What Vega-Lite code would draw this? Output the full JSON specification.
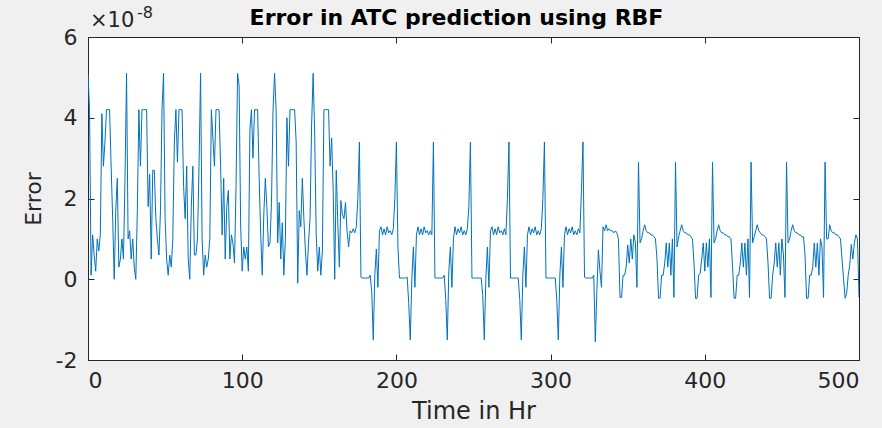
{
"$schema":"https://vega.github.io/schema/vega-lite/v6.json",
"width":771,"height":323,"autosize":"none",
"padding":{"left":88,"top":37,"right":23,"bottom":68},
"background":"#f0f0f0",
"config":{"font":"DejaVu Sans","view":{"fill":"#ffffff","stroke":"#262626","strokeWidth":1},
 "axis":{"domain":false,"grid":false,"tickColor":"#262626","tickSize":-6,"tickWidth":1,"labelColor":"#262626","labelFont":"DejaVu Sans","labelFontSize":22,"titleColor":"#262626","titleFont":"DejaVu Sans","titleFontSize":22,"titleFontWeight":"normal"}},
"title":{"text":"Error in ATC prediction using RBF","font":"DejaVu Sans","fontSize":22,"fontWeight":"bold","color":"#000000","offset":4,"dx":-17,"dy":29},
"data":{"values":[
{"hour":0,"error":5.1e-8},{"hour":1,"error":4.2e-8},{"hour":2,"error":0.1e-8},{"hour":3,"error":1.1e-8},{"hour":4,"error":0.6e-8},{"hour":5,"error":0.2e-8},{"hour":6,"error":1.0e-8},{"hour":7,"error":0.7e-8},{"hour":8,"error":1.1e-8},{"hour":9,"error":4.1e-8},
{"hour":10,"error":2.8e-8},{"hour":11,"error":3.4e-8},{"hour":12,"error":4.2e-8},{"hour":13,"error":4.2e-8},{"hour":14,"error":4.2e-8},{"hour":15,"error":2.8e-8},{"hour":16,"error":1.5e-8},{"hour":17,"error":0},{"hour":18,"error":1.7e-8},{"hour":19,"error":2.5e-8},
{"hour":20,"error":0.3e-8},{"hour":21,"error":0.5e-8},{"hour":22,"error":1.0e-8},{"hour":23,"error":0.5e-8},{"hour":24,"error":2.5e-8},{"hour":25,"error":5.1e-8},{"hour":26,"error":1.0e-8},{"hour":27,"error":1.2e-8},{"hour":28,"error":0.5e-8},{"hour":29,"error":1.0e-8},
{"hour":30,"error":0.3e-8},{"hour":31,"error":0},{"hour":32,"error":1.7e-8},{"hour":33,"error":4.2e-8},{"hour":34,"error":2.8e-8},{"hour":35,"error":4.2e-8},{"hour":36,"error":4.2e-8},{"hour":37,"error":4.2e-8},{"hour":38,"error":4.2e-8},{"hour":39,"error":1.8e-8},
{"hour":40,"error":2.6e-8},{"hour":41,"error":0.5e-8},{"hour":42,"error":2.7e-8},{"hour":43,"error":2.7e-8},{"hour":44,"error":1.5e-8},{"hour":45,"error":1.0e-8},{"hour":46,"error":0.6e-8},{"hour":47,"error":1.7e-8},{"hour":48,"error":4.2e-8},{"hour":49,"error":5.1e-8},
{"hour":50,"error":1.5e-8},{"hour":51,"error":0.5e-8},{"hour":52,"error":0.1e-8},{"hour":53,"error":0.6e-8},{"hour":54,"error":0.3e-8},{"hour":55,"error":1.0e-8},{"hour":56,"error":3.4e-8},{"hour":57,"error":4.2e-8},{"hour":58,"error":2.9e-8},{"hour":59,"error":4.2e-8},
{"hour":60,"error":4.2e-8},{"hour":61,"error":4.2e-8},{"hour":62,"error":2.3e-8},{"hour":63,"error":1.5e-8},{"hour":64,"error":2.8e-8},{"hour":65,"error":0.5e-8},{"hour":66,"error":0},{"hour":67,"error":1.8e-8},{"hour":68,"error":2.8e-8},{"hour":69,"error":0.6e-8},
{"hour":70,"error":0.6e-8},{"hour":71,"error":1.0e-8},{"hour":72,"error":2.8e-8},{"hour":73,"error":5.1e-8},{"hour":74,"error":1.0e-8},{"hour":75,"error":0.1e-8},{"hour":76,"error":0.6e-8},{"hour":77,"error":0.3e-8},{"hour":78,"error":0.5e-8},{"hour":79,"error":1.0e-8},
{"hour":80,"error":4.2e-8},{"hour":81,"error":3.5e-8},{"hour":82,"error":2.8e-8},{"hour":83,"error":4.2e-8},{"hour":84,"error":4.2e-8},{"hour":85,"error":4.2e-8},{"hour":86,"error":2.8e-8},{"hour":87,"error":1.1e-8},{"hour":88,"error":2.5e-8},{"hour":89,"error":0.5e-8},
{"hour":90,"error":1.8e-8},{"hour":91,"error":2.2e-8},{"hour":92,"error":0.5e-8},{"hour":93,"error":1.1e-8},{"hour":94,"error":0.9e-8},{"hour":95,"error":0.4e-8},{"hour":96,"error":2.3e-8},{"hour":97,"error":5.1e-8},{"hour":98,"error":4.8e-8},{"hour":99,"error":1.3e-8},
{"hour":100,"error":0.2e-8},{"hour":101,"error":0.8e-8},{"hour":102,"error":0.5e-8},{"hour":103,"error":0.8e-8},{"hour":104,"error":0.2e-8},{"hour":105,"error":3.7e-8},{"hour":106,"error":4.2e-8},{"hour":107,"error":3.0e-8},{"hour":108,"error":4.2e-8},{"hour":109,"error":4.2e-8},
{"hour":110,"error":4.2e-8},{"hour":111,"error":2.5e-8},{"hour":112,"error":1.1e-8},{"hour":113,"error":0.1e-8},{"hour":114,"error":1.6e-8},{"hour":115,"error":2.5e-8},{"hour":116,"error":1.8e-8},{"hour":117,"error":0.8e-8},{"hour":118,"error":0.9e-8},{"hour":119,"error":1.9e-8},
{"hour":120,"error":4.2e-8},{"hour":121,"error":5.1e-8},{"hour":122,"error":4.2e-8},{"hour":123,"error":0.9e-8},{"hour":124,"error":1.9e-8},{"hour":125,"error":0.5e-8},{"hour":126,"error":1.4e-8},{"hour":127,"error":0.1e-8},{"hour":128,"error":1.0e-8},{"hour":129,"error":4.0e-8},
{"hour":130,"error":2.8e-8},{"hour":131,"error":4.2e-8},{"hour":132,"error":4.2e-8},{"hour":133,"error":4.2e-8},{"hour":134,"error":4.2e-8},{"hour":135,"error":3.4e-8},{"hour":136,"error":-0.1e-8},{"hour":137,"error":1.7e-8},{"hour":138,"error":1.3e-8},{"hour":139,"error":2.5e-8},
{"hour":140,"error":1.5e-8},{"hour":141,"error":0.7e-8},{"hour":142,"error":0.1e-8},{"hour":143,"error":0.9e-8},{"hour":144,"error":1.5e-8},{"hour":145,"error":3.8e-8},{"hour":146,"error":5.1e-8},{"hour":147,"error":3.6e-8},{"hour":148,"error":1.1e-8},{"hour":149,"error":0.2e-8},
{"hour":150,"error":0.8e-8},{"hour":151,"error":0.1e-8},{"hour":152,"error":0.7e-8},{"hour":153,"error":4.2e-8},{"hour":154,"error":4.2e-8},{"hour":155,"error":4.2e-8},{"hour":156,"error":4.2e-8},{"hour":157,"error":2.8e-8},{"hour":158,"error":3.5e-8},{"hour":159,"error":2.2e-8},
{"hour":160,"error":0},{"hour":161,"error":2.7e-8},{"hour":162,"error":1.4e-8},{"hour":163,"error":0.3e-8},{"hour":164,"error":1.95e-8},{"hour":165,"error":1.6e-8},{"hour":166,"error":1.5e-8},{"hour":167,"error":1.9e-8},{"hour":168,"error":1.2e-8},{"hour":169,"error":0.8e-8},
{"hour":170,"error":1.2e-8},{"hour":171,"error":1.15e-8},{"hour":172,"error":1.25e-8},{"hour":173,"error":1.15e-8},{"hour":174,"error":1.3e-8},{"hour":175,"error":2.0e-8},{"hour":176,"error":3.4e-8},{"hour":177,"error":0.05e-8},{"hour":178,"error":0.03e-8},{"hour":179,"error":0.03e-8},
{"hour":180,"error":0.03e-8},{"hour":181,"error":0.03e-8},{"hour":182,"error":0.03e-8},{"hour":183,"error":0.1e-8},{"hour":184,"error":-0.3e-8},{"hour":185,"error":-1.5e-8},{"hour":186,"error":0.1e-8},{"hour":187,"error":0.75e-8},{"hour":188,"error":-0.2e-8},{"hour":189,"error":1.2e-8},
{"hour":190,"error":1.3e-8},{"hour":191,"error":1.1e-8},{"hour":192,"error":1.25e-8},{"hour":193,"error":1.1e-8},{"hour":194,"error":1.3e-8},{"hour":195,"error":1.15e-8},{"hour":196,"error":1.2e-8},{"hour":197,"error":1.1e-8},{"hour":198,"error":1.25e-8},{"hour":199,"error":2.0e-8},
{"hour":200,"error":3.4e-8},{"hour":201,"error":0.8e-8},{"hour":202,"error":0.03e-8},{"hour":203,"error":0.03e-8},{"hour":204,"error":0.03e-8},{"hour":205,"error":0.03e-8},{"hour":206,"error":0.03e-8},{"hour":207,"error":0.05e-8},{"hour":208,"error":-0.6e-8},{"hour":209,"error":-1.5e-8},
{"hour":210,"error":0},{"hour":211,"error":0.8e-8},{"hour":212,"error":-0.2e-8},{"hour":213,"error":1.1e-8},{"hour":214,"error":1.3e-8},{"hour":215,"error":1.1e-8},{"hour":216,"error":1.25e-8},{"hour":217,"error":1.1e-8},{"hour":218,"error":1.3e-8},{"hour":219,"error":1.15e-8},
{"hour":220,"error":1.2e-8},{"hour":221,"error":1.1e-8},{"hour":222,"error":1.2e-8},{"hour":223,"error":1.1e-8},{"hour":224,"error":3.4e-8},{"hour":225,"error":0.03e-8},{"hour":226,"error":0.03e-8},{"hour":227,"error":0.03e-8},{"hour":228,"error":0.03e-8},{"hour":229,"error":0.03e-8},
{"hour":230,"error":0.03e-8},{"hour":231,"error":0.1e-8},{"hour":232,"error":-0.5e-8},{"hour":233,"error":-1.5e-8},{"hour":234,"error":0.2e-8},{"hour":235,"error":0.8e-8},{"hour":236,"error":-0.2e-8},{"hour":237,"error":1.0e-8},{"hour":238,"error":1.3e-8},{"hour":239,"error":1.1e-8},
{"hour":240,"error":1.25e-8},{"hour":241,"error":1.15e-8},{"hour":242,"error":1.3e-8},{"hour":243,"error":1.1e-8},{"hour":244,"error":1.2e-8},{"hour":245,"error":1.1e-8},{"hour":246,"error":1.25e-8},{"hour":247,"error":1.8e-8},{"hour":248,"error":3.4e-8},{"hour":249,"error":0.03e-8},
{"hour":250,"error":0.03e-8},{"hour":251,"error":0.03e-8},{"hour":252,"error":0.03e-8},{"hour":253,"error":0.03e-8},{"hour":254,"error":0.03e-8},{"hour":255,"error":0.03e-8},{"hour":256,"error":-0.4e-8},{"hour":257,"error":-1.5e-8},{"hour":258,"error":0},{"hour":259,"error":0.8e-8},
{"hour":260,"error":-0.2e-8},{"hour":261,"error":1.2e-8},{"hour":262,"error":1.3e-8},{"hour":263,"error":1.1e-8},{"hour":264,"error":1.25e-8},{"hour":265,"error":1.1e-8},{"hour":266,"error":1.3e-8},{"hour":267,"error":1.15e-8},{"hour":268,"error":1.2e-8},{"hour":269,"error":1.1e-8},
{"hour":270,"error":1.25e-8},{"hour":271,"error":1.1e-8},{"hour":272,"error":2.0e-8},{"hour":273,"error":3.4e-8},{"hour":274,"error":0.03e-8},{"hour":275,"error":0.03e-8},{"hour":276,"error":0.03e-8},{"hour":277,"error":0.03e-8},{"hour":278,"error":0.03e-8},{"hour":279,"error":0.03e-8},
{"hour":280,"error":-0.5e-8},{"hour":281,"error":-1.5e-8},{"hour":282,"error":0.1e-8},{"hour":283,"error":0.8e-8},{"hour":284,"error":-0.2e-8},{"hour":285,"error":1.1e-8},{"hour":286,"error":1.3e-8},{"hour":287,"error":1.1e-8},{"hour":288,"error":1.25e-8},{"hour":289,"error":1.15e-8},
{"hour":290,"error":1.3e-8},{"hour":291,"error":1.1e-8},{"hour":292,"error":1.2e-8},{"hour":293,"error":1.1e-8},{"hour":294,"error":1.25e-8},{"hour":295,"error":2.0e-8},{"hour":296,"error":3.4e-8},{"hour":297,"error":0.03e-8},{"hour":298,"error":0.03e-8},{"hour":299,"error":0.03e-8},
{"hour":300,"error":0.03e-8},{"hour":301,"error":0.03e-8},{"hour":302,"error":0.03e-8},{"hour":303,"error":0.03e-8},{"hour":304,"error":-0.5e-8},{"hour":305,"error":-1.5e-8},{"hour":306,"error":0.1e-8},{"hour":307,"error":0.8e-8},{"hour":308,"error":-0.2e-8},{"hour":309,"error":1.1e-8},
{"hour":310,"error":1.3e-8},{"hour":311,"error":1.1e-8},{"hour":312,"error":1.25e-8},{"hour":313,"error":1.15e-8},{"hour":314,"error":1.3e-8},{"hour":315,"error":1.1e-8},{"hour":316,"error":1.2e-8},{"hour":317,"error":1.1e-8},{"hour":318,"error":1.25e-8},{"hour":319,"error":1.15e-8},
{"hour":320,"error":2.2e-8},{"hour":321,"error":3.4e-8},{"hour":322,"error":0.05e-8},{"hour":323,"error":0.03e-8},{"hour":324,"error":0.03e-8},{"hour":325,"error":0.03e-8},{"hour":326,"error":0.03e-8},{"hour":327,"error":0.03e-8},{"hour":328,"error":0.1e-8},{"hour":329,"error":-1.55e-8},
{"hour":330,"error":-0.3e-8},{"hour":331,"error":0.73e-8},{"hour":332,"error":0.2e-8},{"hour":333,"error":-0.2e-8},{"hour":334,"error":1.3e-8},{"hour":335,"error":1.2e-8},{"hour":336,"error":1.35e-8},{"hour":337,"error":1.2e-8},{"hour":338,"error":1.25e-8},{"hour":339,"error":1.2e-8},
{"hour":340,"error":1.2e-8},{"hour":341,"error":1.15e-8},{"hour":342,"error":1.2e-8},{"hour":343,"error":1.15e-8},{"hour":344,"error":1.0e-8},{"hour":345,"error":-0.45e-8},{"hour":346,"error":-0.45e-8},{"hour":347,"error":0.1e-8},{"hour":348,"error":0.1e-8},{"hour":349,"error":0.3e-8},
{"hour":350,"error":0.85e-8},{"hour":351,"error":0.4e-8},{"hour":352,"error":1.0e-8},{"hour":353,"error":0.5e-8},{"hour":354,"error":1.1e-8},{"hour":355,"error":0.9e-8},{"hour":356,"error":-0.2e-8},{"hour":357,"error":2.9e-8},{"hour":358,"error":0.9e-8},{"hour":359,"error":1.0e-8},
{"hour":360,"error":1.2e-8},{"hour":361,"error":1.35e-8},{"hour":362,"error":1.2e-8},{"hour":363,"error":1.15e-8},{"hour":364,"error":1.15e-8},{"hour":365,"error":1.1e-8},{"hour":366,"error":1.1e-8},{"hour":367,"error":1.05e-8},{"hour":368,"error":1.0e-8},{"hour":369,"error":0.5e-8},
{"hour":370,"error":-0.47e-8},{"hour":371,"error":-0.47e-8},{"hour":372,"error":0.1e-8},{"hour":373,"error":0.1e-8},{"hour":374,"error":0.4e-8},{"hour":375,"error":0.9e-8},{"hour":376,"error":0.3e-8},{"hour":377,"error":0.9e-8},{"hour":378,"error":0.1e-8},{"hour":379,"error":1.0e-8},
{"hour":380,"error":-0.45e-8},{"hour":381,"error":2.9e-8},{"hour":382,"error":0.8e-8},{"hour":383,"error":1.05e-8},{"hour":384,"error":1.2e-8},{"hour":385,"error":1.35e-8},{"hour":386,"error":1.2e-8},{"hour":387,"error":1.15e-8},{"hour":388,"error":1.15e-8},{"hour":389,"error":1.1e-8},
{"hour":390,"error":1.1e-8},{"hour":391,"error":1.05e-8},{"hour":392,"error":1.0e-8},{"hour":393,"error":0.4e-8},{"hour":394,"error":-0.47e-8},{"hour":395,"error":-0.47e-8},{"hour":396,"error":0.1e-8},{"hour":397,"error":0.15e-8},{"hour":398,"error":0.5e-8},{"hour":399,"error":0.9e-8},
{"hour":400,"error":0.2e-8},{"hour":401,"error":0.9e-8},{"hour":402,"error":0.3e-8},{"hour":403,"error":1.0e-8},{"hour":404,"error":-0.45e-8},{"hour":405,"error":2.9e-8},{"hour":406,"error":0.9e-8},{"hour":407,"error":1.0e-8},{"hour":408,"error":1.2e-8},{"hour":409,"error":1.35e-8},
{"hour":410,"error":1.2e-8},{"hour":411,"error":1.15e-8},{"hour":412,"error":1.15e-8},{"hour":413,"error":1.1e-8},{"hour":414,"error":1.1e-8},{"hour":415,"error":1.05e-8},{"hour":416,"error":1.05e-8},{"hour":417,"error":1.0e-8},{"hour":418,"error":0.3e-8},{"hour":419,"error":-0.47e-8},
{"hour":420,"error":-0.47e-8},{"hour":421,"error":0.1e-8},{"hour":422,"error":0.1e-8},{"hour":423,"error":0.4e-8},{"hour":424,"error":0.9e-8},{"hour":425,"error":0.3e-8},{"hour":426,"error":0.9e-8},{"hour":427,"error":0.1e-8},{"hour":428,"error":1.0e-8},{"hour":429,"error":-0.45e-8},
{"hour":430,"error":2.9e-8},{"hour":431,"error":0.9e-8},{"hour":432,"error":1.05e-8},{"hour":433,"error":1.2e-8},{"hour":434,"error":1.35e-8},{"hour":435,"error":1.2e-8},{"hour":436,"error":1.15e-8},{"hour":437,"error":1.1e-8},{"hour":438,"error":1.1e-8},{"hour":439,"error":1.05e-8},
{"hour":440,"error":1.0e-8},{"hour":441,"error":0.4e-8},{"hour":442,"error":-0.47e-8},{"hour":443,"error":-0.47e-8},{"hour":444,"error":0.1e-8},{"hour":445,"error":0.4e-8},{"hour":446,"error":0.9e-8},{"hour":447,"error":0.3e-8},{"hour":448,"error":0.9e-8},{"hour":449,"error":0.1e-8},
{"hour":450,"error":1.0e-8},{"hour":451,"error":0.6e-8},{"hour":452,"error":-0.45e-8},{"hour":453,"error":2.9e-8},{"hour":454,"error":0.9e-8},{"hour":455,"error":1.0e-8},{"hour":456,"error":1.2e-8},{"hour":457,"error":1.35e-8},{"hour":458,"error":1.2e-8},{"hour":459,"error":1.15e-8},
{"hour":460,"error":1.15e-8},{"hour":461,"error":1.1e-8},{"hour":462,"error":1.1e-8},{"hour":463,"error":1.05e-8},{"hour":464,"error":1.05e-8},{"hour":465,"error":0.6e-8},{"hour":466,"error":-0.47e-8},{"hour":467,"error":-0.47e-8},{"hour":468,"error":0.1e-8},{"hour":469,"error":0.1e-8},
{"hour":470,"error":0.3e-8},{"hour":471,"error":0.9e-8},{"hour":472,"error":0.3e-8},{"hour":473,"error":0.9e-8},{"hour":474,"error":0.1e-8},{"hour":475,"error":1.0e-8},{"hour":476,"error":0.8e-8},{"hour":477,"error":-0.45e-8},{"hour":478,"error":2.9e-8},{"hour":479,"error":1.0e-8},
{"hour":480,"error":1.0e-8},{"hour":481,"error":1.35e-8},{"hour":482,"error":1.2e-8},{"hour":483,"error":1.15e-8},{"hour":484,"error":1.15e-8},{"hour":485,"error":1.1e-8},{"hour":486,"error":1.1e-8},{"hour":487,"error":1.05e-8},{"hour":488,"error":1.0e-8},{"hour":489,"error":0.5e-8},
{"hour":490,"error":0},{"hour":491,"error":-0.47e-8},{"hour":492,"error":-0.35e-8},{"hour":493,"error":0.1e-8},{"hour":494,"error":0.36e-8},{"hour":495,"error":0.86e-8},{"hour":496,"error":0.5e-8},{"hour":497,"error":0.9e-8},{"hour":498,"error":1.1e-8},{"hour":499,"error":1.0e-8},
{"hour":500,"error":-0.45e-8}
]},
"layer":[
 {"mark":{"type":"line","stroke":"#0072BD","strokeWidth":1,"clip":true},
  "encoding":{
   "x":{"field":"hour","type":"quantitative","scale":{"domain":[0,500],"nice":false},
        "axis":{"orient":"bottom","values":[0,100,200,300,400,500],"title":"Time in Hr","titleFontSize":24,"labelPadding":16,"titlePadding":8}},
   "y":{"field":"error","type":"quantitative","scale":{"domain":[-2e-8,6e-8],"nice":false,"zero":false},
        "axis":{"orient":"left","values":[-2e-8,0,2e-8,4e-8,6e-8],"labelExpr":"'' + round(datum.value*1e8)","title":"Error","labelPadding":17,"titlePadding":10}}}},
 {"mark":{"type":"line","strokeOpacity":0},
  "encoding":{
   "x":{"field":"hour","type":"quantitative","axis":{"orient":"top","values":[0,100,200,300,400,500],"labels":false,"title":null}},
   "y":{"field":"error","type":"quantitative","axis":{"orient":"right","values":[-2e-8,0,2e-8,4e-8,6e-8],"labels":false,"title":null}}}},
 {"data":{"values":[{}]},
  "mark":{"type":"text","text":"×10","align":"left","baseline":"alphabetic","dx":2,"dy":-10,"fontSize":21,"color":"#262626","font":"DejaVu Sans"},
  "encoding":{"x":{"datum":0,"type":"quantitative","axis":null},"y":{"datum":6e-8,"type":"quantitative","axis":null}}},
 {"data":{"values":[{}]},
  "mark":{"type":"text","text":"-8","align":"left","baseline":"alphabetic","dx":49,"dy":-19,"fontSize":16,"color":"#262626","font":"DejaVu Sans"},
  "encoding":{"x":{"datum":0,"type":"quantitative","axis":null},"y":{"datum":6e-8,"type":"quantitative","axis":null}}}
],
"resolve":{"axis":{"x":"independent","y":"independent"}}
}
